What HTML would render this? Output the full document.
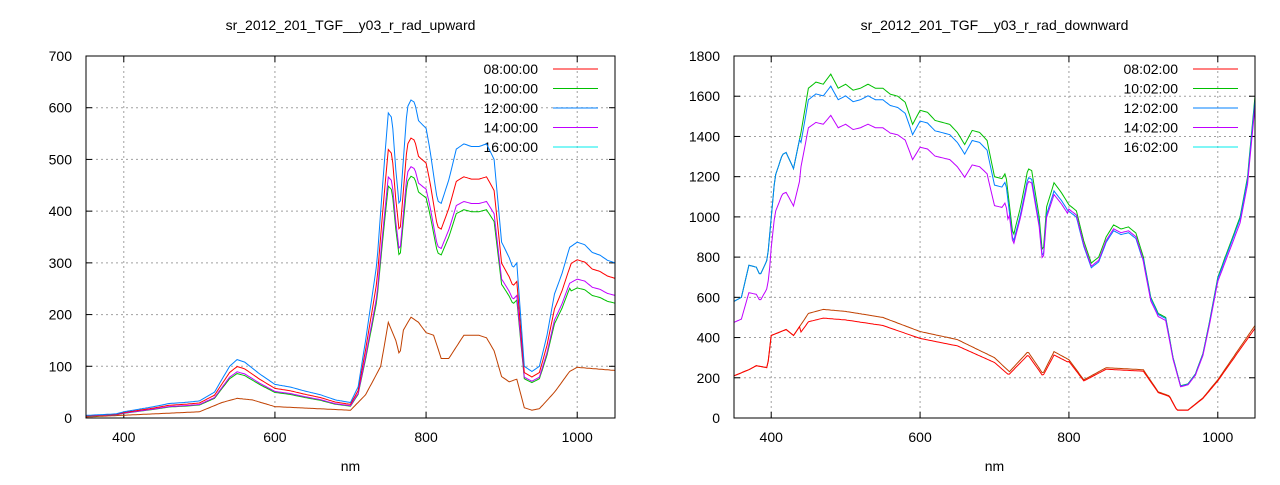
<!DOCTYPE html>
<html><head><meta charset="utf-8"><style>
body{margin:0;background:#fff;width:1280px;height:480px;overflow:hidden}
svg{font-family:"Liberation Sans",sans-serif;font-size:14px}
</style></head><body>
<svg id="s" width="1280" height="480" xmlns="http://www.w3.org/2000/svg"></svg>
<script>
const S=document.getElementById('s');let h='';
function chart(o){
 const {x0,x1,y0,y1,ymax,ystep,title,tx}=o;
 const X=n=>x0+(n-350)/700*(x1-x0), Y=v=>y1-v/ymax*(y1-y0);
 // grid
 for(let n=400;n<=1000;n+=200){h+=`<line x1="${X(n)}" y1="${y0}" x2="${X(n)}" y2="${y1}" stroke="#a0a0a0" stroke-dasharray="2,3"/>`;
  h+=`<line x1="${X(n)}" y1="${y1}" x2="${X(n)}" y2="${y1-6}" stroke="#000"/><line x1="${X(n)}" y1="${y0}" x2="${X(n)}" y2="${y0+6}" stroke="#000"/>`;
  h+=`<text x="${X(n)}" y="${y1+24}" text-anchor="middle">${n}</text>`;}
 for(let v=0;v<=ymax;v+=ystep){const y=Y(v);
  if(v>0&&v<ymax)h+=`<line x1="${x0}" y1="${y}" x2="${x1}" y2="${y}" stroke="#a0a0a0" stroke-dasharray="2,3"/>`;
  h+=`<line x1="${x0}" y1="${y}" x2="${x0+6}" y2="${y}" stroke="#000"/><line x1="${x1}" y1="${y}" x2="${x1-6}" y2="${y}" stroke="#000"/>`;
  h+=`<text x="${x0-14}" y="${y+5}" text-anchor="end">${v}</text>`;}
 h+=`<text x="${(x0+x1)/2}" y="30" text-anchor="middle">${title}</text>`;
 h+=`<text x="${(x0+x1)/2}" y="471" text-anchor="middle">nm</text>`;
 // legend
 const cols=['#ff0000','#00c000','#0080ff','#c000ff','#00eeee'];
 o.labels.forEach((l,i)=>{const y=y0+13+i*19.5;h+=`<text x="${tx}" y="${y+5}" text-anchor="end">${l}</text><line x1="${tx+15}" x2="${tx+60}" y1="${y}" y2="${y}" stroke="${cols[i]}"/>`;});
 o.series.forEach(s=>{let p=[];const pts=s.pts;
  for(let n=350;n<=1050;n+=2){let v=pts[pts.length-1][1];
   for(let i=0;i<pts.length-1;i++){if(n>=pts[i][0]&&n<=pts[i+1][0]){const t=(n-pts[i][0])/(pts[i+1][0]-pts[i][0]);v=pts[i][1]+t*(pts[i+1][1]-pts[i][1]);break;}}
   v*=s.f?s.f(n):1;p.push(X(n).toFixed(1)+','+Y(v).toFixed(1));}
  h+=`<polyline fill="none" stroke="${s.c}" stroke-width="1" points="${p.join(' ')}"/>`;});
 h+=`<rect x="${x0}" y="${y0}" width="${x1-x0}" height="${y1-y0}" fill="none" stroke="#000"/>`;
}
const blueL=[[350,5],[390,8],[400,12],[420,17],[440,22],[460,28],[480,30],[500,33],[520,50],[540,100],[550,113],[560,108],[580,85],[600,65],[620,60],[640,52],[660,45],[680,35],[700,30],[710,60],[720,150],[735,300],[745,500],[750,590],[755,580],[760,480],[765,400],[770,500],[775,600],[780,615],[785,610],[790,575],[800,560],[805,520],[815,420],[820,415],[830,460],[840,520],[850,530],[860,525],[870,525],[880,530],[890,500],[900,340],[910,310],[915,290],[920,300],[930,100],[940,90],[950,100],[960,160],[970,240],[980,280],[990,330],[1000,340],[1010,335],[1020,320],[1030,315],[1040,305],[1050,300]];
const orL=[[350,2],[500,12],[530,30],[550,38],[570,35],[600,22],[700,15],[720,45],[740,100],[750,185],[760,150],[765,120],[770,170],[780,195],[790,185],[800,165],[810,160],[820,115],[830,115],[850,160],[870,160],[880,155],[890,130],[900,80],[910,70],[920,75],[930,20],[940,15],[950,18],[970,50],[990,90],[1000,98],[1050,92]];
chart({x0:86,x1:615,y0:56,y1:418,ymax:700,ystep:100,title:'sr_2012_201_TGF__y03_r_rad_upward',tx:538,
 labels:['08:00:00','10:00:00','12:00:00','14:00:00','16:00:00'],
 series:[{c:'#c04000',pts:orL},{c:'#00c000',pts:blueL,f:n=>n>990?0.74:0.76},{c:'#c000ff',pts:blueL,f:()=>0.79},{c:'#ff0000',pts:blueL,f:n=>n>990?0.9:0.88},{c:'#0080ff',pts:blueL}]});
const gR=[[350,580],[360,600],[370,760],[380,750],[385,710],[395,790],[405,1200],[415,1310],[420,1320],[430,1240],[440,1420],[450,1640],[460,1670],[470,1660],[480,1710],[490,1640],[500,1660],[510,1630],[520,1640],[530,1660],[540,1640],[550,1640],[560,1610],[570,1600],[580,1570],[590,1460],[600,1530],[610,1520],[620,1480],[640,1460],[650,1420],[660,1360],[670,1430],[680,1420],[690,1380],[700,1200],[710,1190],[715,1220],[725,900],[735,1050],[745,1240],[750,1230],[760,1000],[765,800],[770,1050],[780,1170],[790,1120],[800,1060],[810,1030],[820,880],[830,770],[840,800],[850,900],[860,960],[870,940],[880,950],[890,920],[900,800],[910,600],[920,520],[930,500],[940,300],[950,160],[960,170],[970,220],[980,320],[990,500],[1000,700],[1010,800],[1020,900],[1030,1000],[1040,1200],[1050,1600]];
const oR=[[350,210],[370,240],[380,260],[395,250],[400,410],[420,440],[430,410],[450,520],[470,540],[500,530],[550,500],[600,430],[650,390],[700,300],[720,230],[745,330],[765,220],[780,330],[800,290],[820,190],[850,250],[900,240],[920,130],[935,110],[945,40],[960,40],[980,100],[1000,190],[1050,460]];
chart({x0:734,x1:1255,y0:56,y1:418,ymax:1800,ystep:200,title:'sr_2012_201_TGF__y03_r_rad_downward',tx:1178,
 labels:['08:02:00','10:02:00','12:02:00','14:02:00','16:02:00'],
 series:[{c:'#c04000',pts:oR},{c:'#ff0000',pts:oR,f:n=>n<440?1:n<720?0.92:n<800?0.95:0.97},{c:'#00c000',pts:gR},{c:'#0080ff',pts:gR,f:n=>n<440?1:n<800?0.965:n<900?0.97:0.99},{c:'#c000ff',pts:gR,f:n=>n<400?0.82:n<440?0.85:n<720?0.88:n<800?0.95:n<900?0.98:0.97}]});
S.innerHTML=h;
</script>
</body></html>
